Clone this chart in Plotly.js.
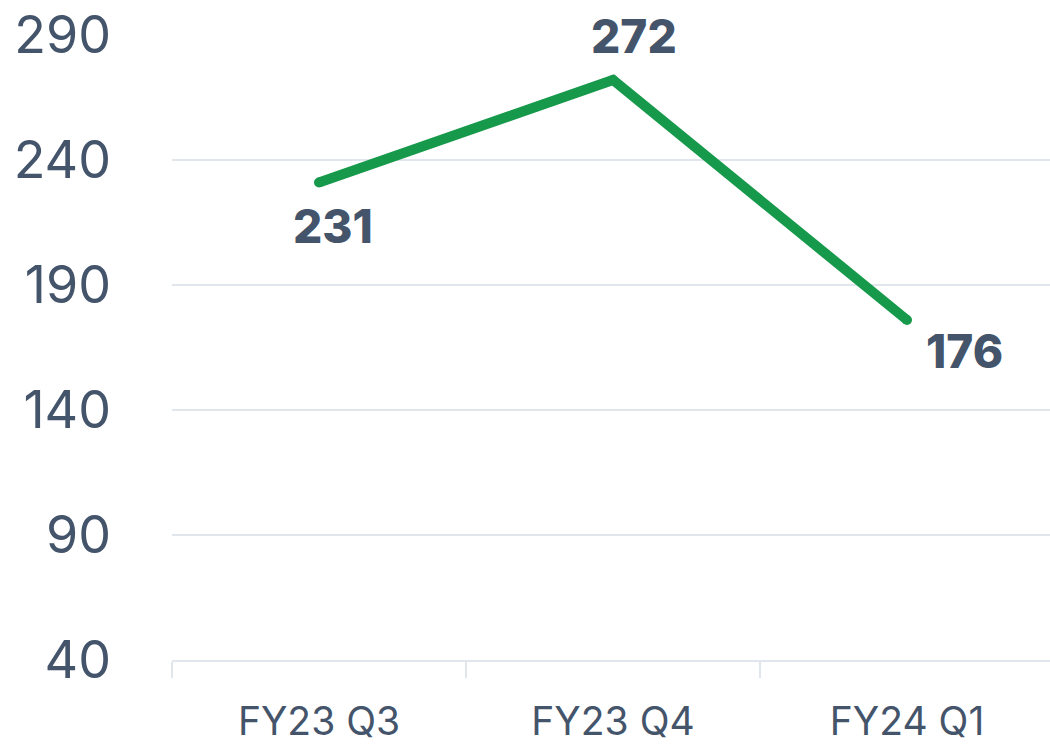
<!DOCTYPE html>
<html>
<head>
<meta charset="utf-8">
<script src="https://cdn.plot.ly/plotly-3.0.1.min.js"></script>
<style>
  html, body { margin: 0; padding: 0; background: #ffffff; overflow: hidden; }
  #chart { width: 1054px; height: 752px; }
</style>
</head>
<body>
<div id="chart"></div>
<script>
// Data
const categories = ["FY23 Q3", "FY23 Q4", "FY24 Q1"];
const values = [231, 272, 176];
const yTickValues = [40, 90, 140, 190, 240, 290];

// Label placement (pixel offsets from each point)
const labelShiftX = [14, 21, 57];
const labelShiftY = [-43, 44, -31];

const textColor = "#44546a";
const gridColor = "#e1e5ec";
const lineColor = "#16994a";
const fontFamily = "Inter, 'Open Sans', sans-serif";

const trace = {
  type: "scatter",
  mode: "lines+markers",
  x: categories,
  y: values,
  line: { color: lineColor, width: 10 },
  marker: { color: lineColor, size: 10, line: { width: 0 } },
  hoverinfo: "skip"
};

const annotations = categories.map((c, i) => ({
  x: c,
  y: values[i],
  xref: "x",
  yref: "y",
  text: String(values[i]),
  showarrow: false,
  xshift: labelShiftX[i],
  yshift: labelShiftY[i],
  font: { family: fontFamily, size: 46, color: textColor, weight: 800 }
}));

const layout = {
  width: 1054,
  height: 752,
  margin: { l: 172, r: 0, t: 35, b: 92 },
  paper_bgcolor: "#ffffff",
  plot_bgcolor: "#ffffff",
  showlegend: false,
  font: { family: fontFamily, color: textColor },
  xaxis: {
    type: "category",
    range: [-0.5, 2.5],
    showgrid: false,
    zeroline: false,
    showline: true,
    linecolor: gridColor,
    linewidth: 2,
    ticks: "outside",
    tickson: "boundaries",
    ticklen: 16,
    tickwidth: 2,
    tickcolor: gridColor,
    ticklabelstandoff: 26,
    tickfont: { family: fontFamily, size: 39, color: textColor },
    fixedrange: true
  },
  yaxis: {
    range: [40, 290],
    tickmode: "array",
    tickvals: yTickValues,
    ticktext: yTickValues.map(String),
    showgrid: true,
    gridcolor: gridColor,
    gridwidth: 2,
    zeroline: false,
    showline: false,
    ticks: "",
    ticklabelstandoff: 60,
    tickfont: { family: fontFamily, size: 52, color: textColor },
    fixedrange: true
  },
  annotations: annotations
};

Plotly.newPlot("chart", [trace], layout, { displayModeBar: false, staticPlot: true });
</script>
</body>
</html>
